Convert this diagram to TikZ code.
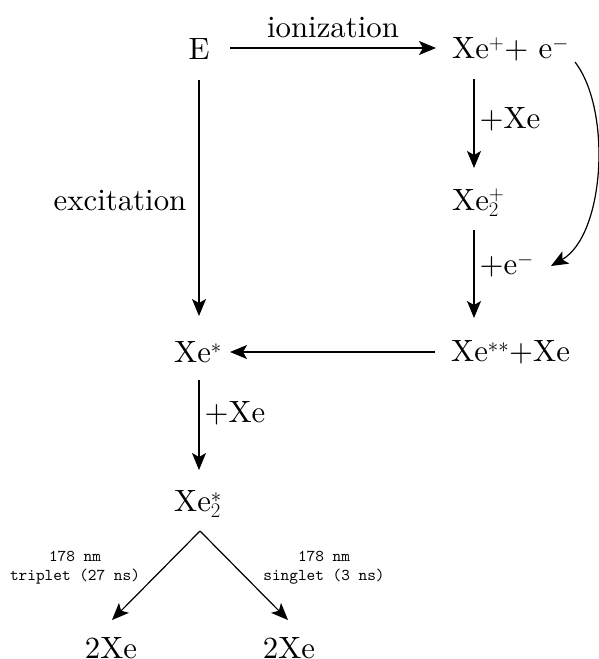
\documentclass[tikz,border=0pt]{standalone}
\usepackage{fontspec}
\setmainfont{lmroman10-regular.otf}
\newfontfamily\smalltt{lmmono10-regular.otf}
\usetikzlibrary{arrows.meta}
\begin{document}
\begin{tikzpicture}[x=1pt,y=-1pt,
  every node/.style={inner sep=0pt,font=\fontsize{30.8}{36}\selectfont},
  lab/.style={font=\fontsize{30.8}{36}\selectfont},
  small/.style={font=\smalltt\fontsize{16.5}{19}\selectfont,align=center},
  arr/.style={-{Stealth[length=17pt,width=14pt,inset=4pt]},line width=1.2pt}]
\useasboundingbox (0,0) rectangle (599,659);
\node (E) at (199,49) {E};
\node[anchor=west] (Xep) at (452,49) {Xe$^+$+ e$^-$};
\node[anchor=west] (Xe2p) at (452,203) {Xe$_2^+$};
\node[anchor=west] (Xess) at (451,352) {Xe$^{**}$+Xe};
\node[anchor=west] (Xes) at (174,352) {Xe$^*$};
\node[anchor=west] (Xe2s) at (174,504) {Xe$_2^*$};
\node (A) at (111,648) {2Xe};
\node (B) at (289,648) {2Xe};
\coordinate (ion1) at (230,48);
\coordinate (ion2) at (436,48);
\coordinate (p1) at (474,79);
\coordinate (p2) at (474,168);
\coordinate (q1) at (474,230);
\coordinate (q2) at (474,318);
\coordinate (c1) at (575,62);
\coordinate (c2) at (551,266);
\coordinate (h1) at (435,352);
\coordinate (h2) at (230,352);
\coordinate (v1) at (199,80);
\coordinate (v2) at (199,316);
\coordinate (w1) at (199,380);
\coordinate (w2) at (199,470);
\coordinate (top) at (200,531);
\coordinate (l2) at (112,620);
\coordinate (r2) at (288,620);
\draw[arr] (ion1) -- (ion2) node[midway,above=10pt,lab] {ionization};
\draw[arr] (p1) -- (p2) node[pos=0.45,right=5pt,lab] {+Xe};
\draw[arr] (q1) -- (q2) node[pos=0.4,right=5pt,lab] {+e$^-$};
\draw[arr] (c1) .. controls (612,110) and (605,235) .. (c2);
\draw[arr] (h1) -- (h2);
\draw[arr] (v1) -- (v2);
\node[lab] (exc) at (120,201) {excitation};
\draw[arr] (w1) -- (w2) node[pos=0.37,right=5pt,lab] {+Xe};
\draw[arr] (top) -- (l2);
\draw[arr] (top) -- (r2);
\node[small] (tl) at (75,568) {178 nm\\triplet (27 ns)};
\node[small] (sl) at (324,568) {178 nm\\singlet (3 ns)};
\end{tikzpicture}
\end{document}
